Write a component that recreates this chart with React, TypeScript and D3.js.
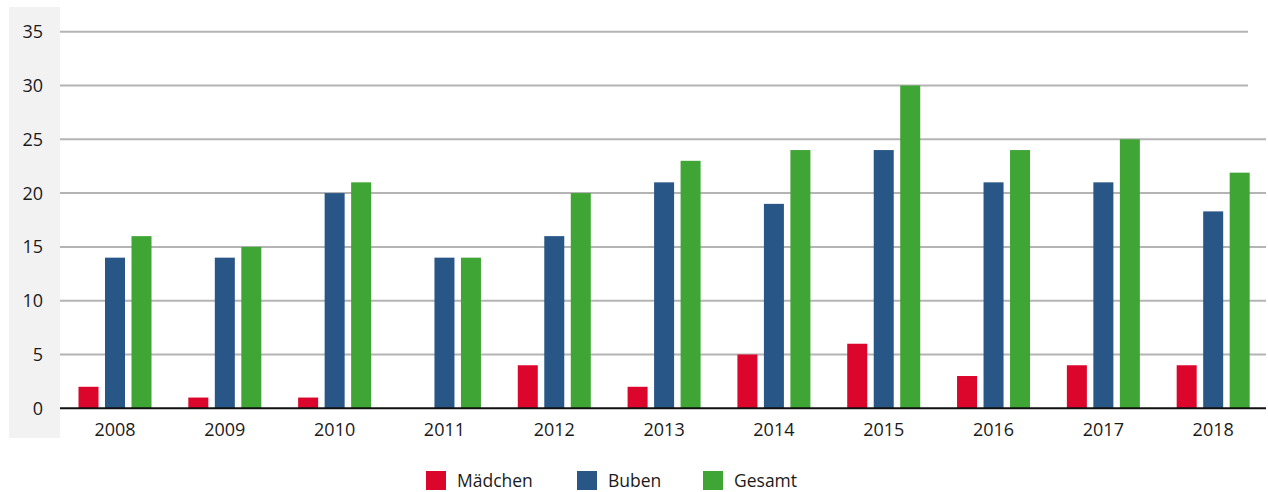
import React, { useEffect, useRef } from 'react';
import * as d3 from 'd3';

const years = ['2008', '2009', '2010', '2011', '2012', '2013', '2014', '2015', '2016', '2017', '2018'];
const maedchen = [2, 1, 1, 0, 4, 2, 5, 6, 3, 4, 4];
const buben = [14, 14, 20, 14, 16, 21, 19, 24, 21, 21, 18.3];
const gesamt = [16, 15, 21, 14, 20, 23, 24, 30, 24, 25, 21.9];
const seriesNames = ['Mädchen', 'Buben', 'Gesamt'];
const seriesColors = ['#dc052c', '#285687', '#3fa535'];
const yTicks = [0, 5, 10, 15, 20, 25, 30, 35];

const W = 1268;
const H = 492;
const FONT = "'Open Sans', sans-serif";

export default function App() {
  const ref = useRef<SVGSVGElement>(null);

  useEffect(() => {
    const svg = d3.select(ref.current);
    svg.selectAll('*').remove();

    const left = 60, right = 1266, top = 31.7, bottom = 408.3;
    const data = years.map((yr, i) => ({ year: yr, values: [maedchen[i], buben[i], gesamt[i]] }));

    const x0 = d3.scaleBand().domain(years).range([left, 1268]).padding(0);
    const x1 = d3.scaleBand().domain(seriesNames).range([18.5, 91.5]).paddingInner(0.245);
    const y = d3.scaleLinear().domain([0, 35]).range([bottom, top]);

    // grey panel behind the y labels
    svg.append('rect')
      .attr('x', 9).attr('y', 7)
      .attr('width', left - 9).attr('height', 431)
      .attr('fill', '#f2f2f2');

    // gridlines (the two top ones stop a bit earlier, like the original)
    svg.append('g')
      .selectAll('line')
      .data(yTicks.filter(t => t > 0))
      .join('line')
      .attr('x1', left).attr('x2', d => (d >= 30 ? 1248 : right))
      .attr('y1', d => y(d)).attr('y2', d => y(d))
      .attr('stroke', '#b4b4b4')
      .attr('stroke-width', 2);

    // y labels
    svg.append('g')
      .selectAll('text')
      .data(yTicks)
      .join('text')
      .attr('x', 43)
      .attr('y', d => y(d))
      .attr('dy', '0.36em')
      .attr('text-anchor', 'end')
      .attr('font-family', FONT)
      .attr('font-size', 18)
      .attr('fill', '#1a1a1a')
      .text(d => d);

    // bars
    const groups = svg.append('g')
      .selectAll('g')
      .data(data)
      .join('g')
      .attr('transform', d => `translate(${x0(d.year)},0)`);

    groups.selectAll('rect')
      .data(d => d.values.map((v, i) => ({ key: seriesNames[i], value: v, color: seriesColors[i] })))
      .join('rect')
      .attr('x', d => x1(d.key) as number)
      .attr('width', x1.bandwidth())
      .attr('y', d => y(d.value))
      .attr('height', d => y(0) - y(d.value))
      .attr('fill', d => d.color);

    // zero axis
    svg.append('line')
      .attr('x1', left).attr('x2', right)
      .attr('y1', y(0)).attr('y2', y(0))
      .attr('stroke', '#111')
      .attr('stroke-width', 2);

    // year labels
    svg.append('g')
      .selectAll('text')
      .data(years)
      .join('text')
      .attr('x', d => (x0(d) as number) + x1.range()[0] + (x1.range()[1] - x1.range()[0]) / 2)
      .attr('y', 436)
      .attr('text-anchor', 'middle')
      .attr('font-family', FONT)
      .attr('font-size', 18)
      .attr('fill', '#1a1a1a')
      .text(d => d);

    // legend
    const legendX = [426, 577, 703];
    const legend = svg.append('g')
      .selectAll('g')
      .data(seriesNames)
      .join('g')
      .attr('transform', (d, i) => `translate(${legendX[i]},471)`);
    legend.append('rect')
      .attr('width', 20).attr('height', 19)
      .attr('fill', (d, i) => seriesColors[i]);
    legend.append('text')
      .attr('x', 31).attr('y', 15.5)
      .attr('font-family', FONT)
      .attr('font-size', 17.5)
      .attr('fill', '#1a1a1a')
      .text(d => d);
  }, []);

  return (
    <svg ref={ref} width={W} height={H}
      style={{ position: 'absolute', left: 0, top: 0, display: 'block', background: '#fff' }} />
  );
}
